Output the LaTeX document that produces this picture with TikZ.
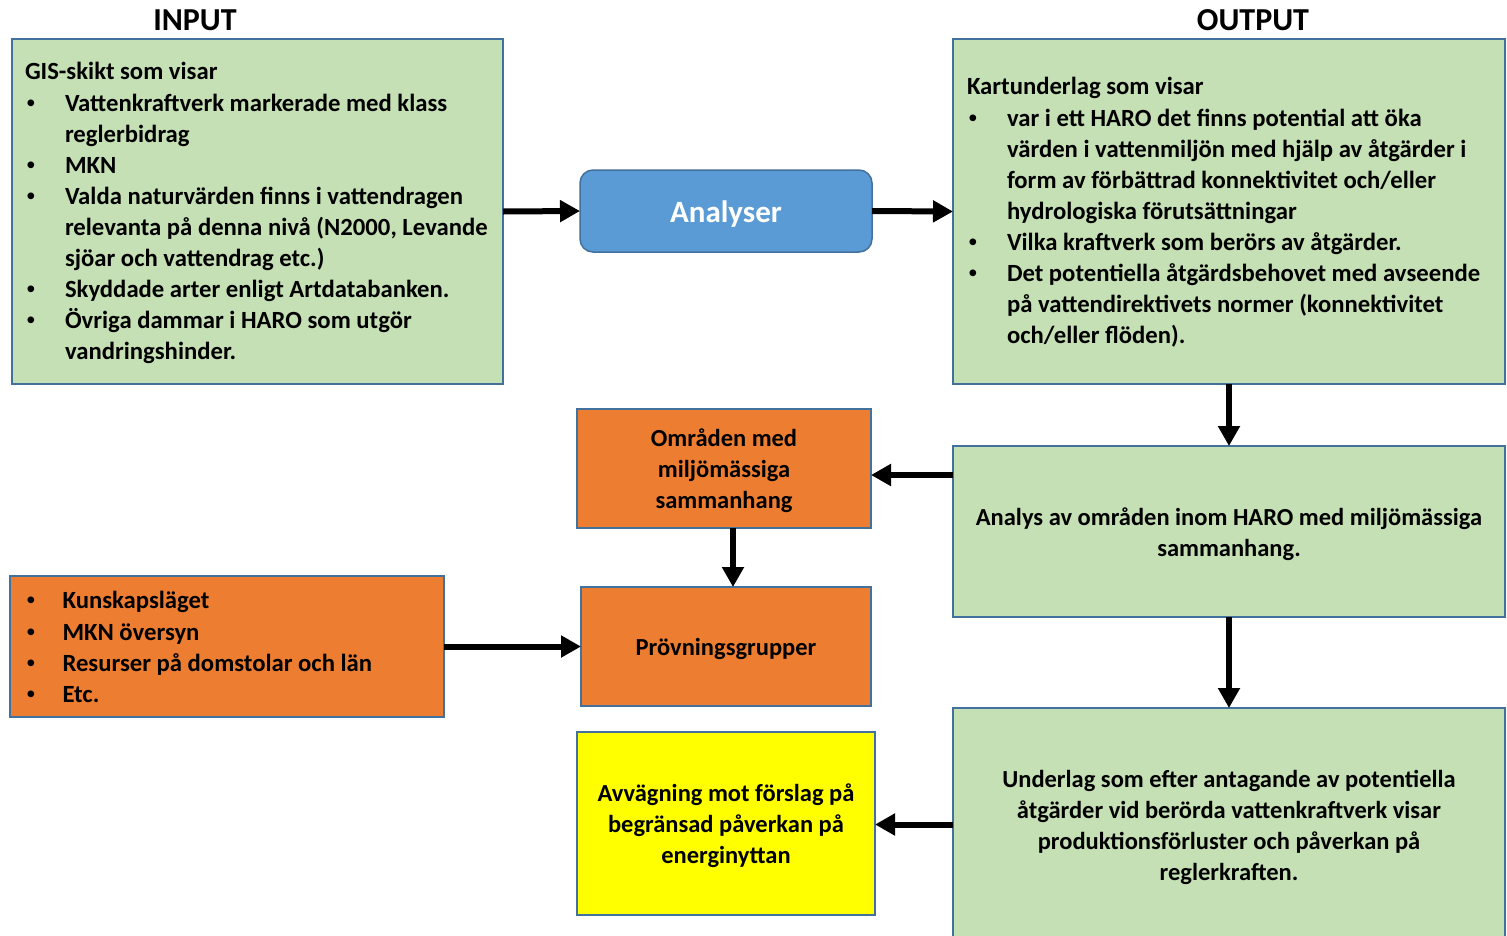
\documentclass[tikz,border=0pt]{standalone}
\usepackage{fontspec}
\setmainfont{Carlito}
\newfontfamily\bulfont{Liberation Sans}
\usetikzlibrary{arrows.meta}
\definecolor{gfill}{HTML}{C5E0B4}
\definecolor{bline}{HTML}{41719C}
\definecolor{ofill}{HTML}{ED7D31}
\definecolor{afill}{HTML}{5B9BD5}
\definecolor{yfill}{HTML}{FFFF00}
\newcommand\bl[1]{\makebox[#1][l]{\hspace{1.5pt}{\bulfont\mdseries\symbol{"2022}}}}
\newcommand\hg[1]{\makebox[#1][l]{}}
\newcommand\fs{\rule{0pt}{27.8pt}\strut}
\begin{document}
\begin{tikzpicture}[x=1pt,y=-1pt,
  box/.style={draw=bline,line width=1.5pt,inner sep=0pt,outer sep=0pt,
    font={\fontsize{24.5}{31.1}\selectfont\bfseries},align=center},
  greenbox/.style={box,fill=gfill},
  orangebox/.style={box,fill=ofill},
  txt/.style={inner sep=0pt,outer sep=0pt,anchor=north west,align=left,
    font={\fontsize{24.7}{31.1}\selectfont\bfseries}},
  ttl/.style={inner sep=0pt,anchor=base,font={\fontsize{32}{38}\selectfont\bfseries}},
  arr/.style={line width=6pt,-{Triangle[length=20pt,width=21pt]}}]
\useasboundingbox (0,0) rectangle (1507,935);
\clip (0,0) rectangle (1507,935);
\fill[white] (0,0) rectangle (1507,935);

% titles
\node[ttl] (tin) at (195,30) {INPUT};
\node[ttl] (tout) at (1253,30) {OUTPUT};

% boxes
\node[greenbox,minimum width=491pt,minimum height=345pt] (inbox) at (257.5,211.5) {};
\node[greenbox,minimum width=552pt,minimum height=345pt] (outbox) at (1229,211.5) {};
\node[box,fill=afill,draw=bline,rounded corners=13pt,minimum width=292pt,minimum height=82pt,
  font={\fontsize{31}{36}\selectfont\bfseries},text=white] (anal) at (726,211)
  {\raisebox{-3pt}[\height][\depth]{Analyser}};
\node[orangebox,minimum width=294pt,minimum height=119pt] (omr) at (724,468.5)
  {\fs Områden med\\\strut miljömässiga\\\strut sammanhang};
\node[greenbox,minimum width=552pt,minimum height=171pt] (analys) at (1229,531.5)
  {\fs Analys av områden inom HARO med miljömässiga\\\strut sammanhang.};
\node[orangebox,minimum width=290pt,minimum height=119pt] (prov) at (726,646.5)
  {\fs Prövningsgrupper};
\node[orangebox,minimum width=434pt,minimum height=141pt] (left) at (227,646.5) {};
\node[greenbox,minimum width=552pt,minimum height=233pt] (under) at (1229,824.5)
  {\fs Underlag som efter antagande av potentiella\\\strut åtgärder vid berörda vattenkraftverk visar\\\strut produktionsförluster och påverkan på\\\strut reglerkraften.};
\node[box,fill=yfill,minimum width=298pt,minimum height=183pt] (yel) at (726,823.5)
  {\fs Avvägning mot förslag på\\\strut begränsad påverkan på\\\strut energinyttan};

% texts in boxes
\node[txt] (intext) at (25,58.2) {%
\strut GIS-skikt som visar\\
\strut\bl{40pt}Vattenkraftverk markerade med klass\\
\strut\hg{40pt}reglerbidrag\\
\strut\bl{40pt}MKN\\
\strut\bl{40pt}Valda naturvärden finns i vattendragen\\
\strut\hg{40pt}relevanta på denna nivå (N2000, Levande\\
\strut\hg{40pt}sjöar och vattendrag etc.)\\
\strut\bl{40pt}Skyddade arter enligt Artdatabanken.\\
\strut\bl{40pt}Övriga dammar i HARO som utgör\\
\strut\hg{40pt}vandringshinder.};
\node[txt] (outtext) at (967,73.2) {%
\strut Kartunderlag som visar\\
\strut\bl{40pt}var i ett HARO det finns potential att öka\\
\strut\hg{40pt}värden i vattenmiljön med hjälp av åtgärder i\\
\strut\hg{40pt}form av förbättrad konnektivitet och/eller\\
\strut\hg{40pt}hydrologiska förutsättningar\\
\strut\bl{40pt}Vilka kraftverk som berörs av åtgärder.\\
\strut\bl{40pt}Det potentiella åtgärdsbehovet med avseende\\
\strut\hg{40pt}på vattendirektivets normer (konnektivitet\\
\strut\hg{40pt}och/eller flöden).};
\node[txt] (lefttext) at (25,587.2) {%
\strut\bl{37.5pt}Kunskapsläget\\
\strut\bl{37.5pt}MKN översyn\\
\strut\bl{37.5pt}Resurser på domstolar och län\\
\strut\bl{37.5pt}Etc.};

% connectors
\draw[arr] (inbox.east) -- (anal.west);
\draw[arr] (anal.east) -- (outbox.west);
\draw[arr] (outbox.south) -- (analys.north);
\coordinate (a1) at ([yshift=-29pt]analys.north west);
\draw[arr] (a1) -- (a1 -| omr.east);
\coordinate (a2) at ([xshift=9pt]omr.south);
\draw[arr] (a2) -- (a2 |- prov.north);
\draw[arr] (left.east) -- (prov.west);
\draw[arr] (analys.south) -- (under.north);
\draw[arr] (under.west) -- (under.west -| yel.east);
\end{tikzpicture}
\end{document}
